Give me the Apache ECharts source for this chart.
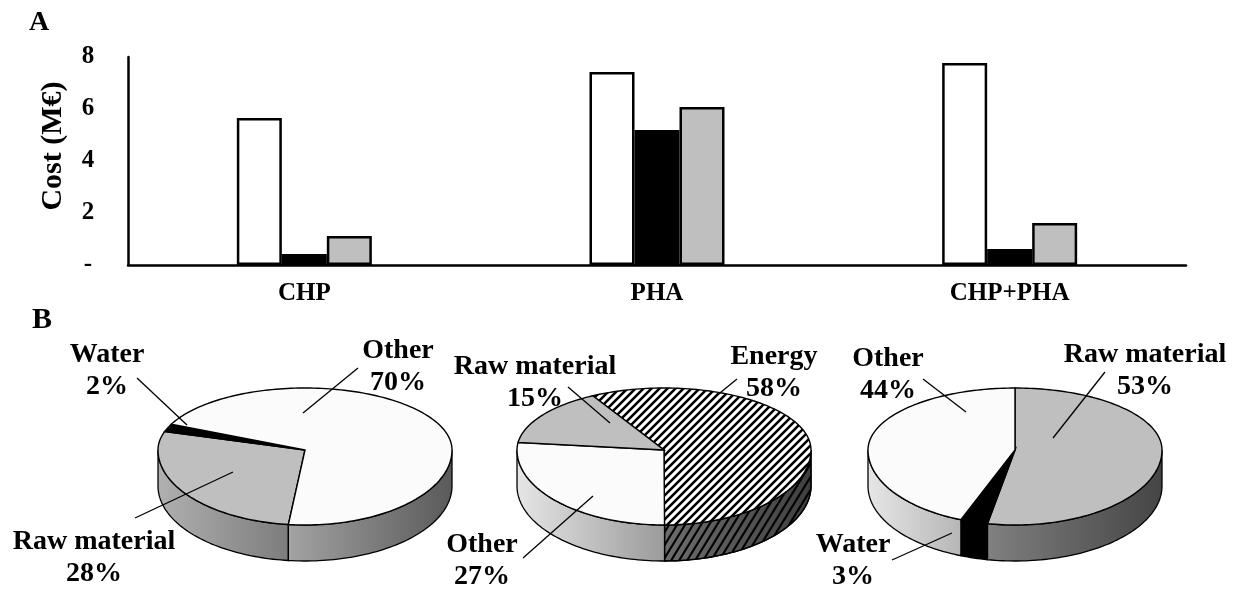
<!DOCTYPE html>
<html>
<head>
<meta charset="utf-8">
<script src="https://cdn.jsdelivr.net/npm/echarts@6/dist/echarts.min.js"></script>
<style>
  html, body { margin: 0; padding: 0; background: #fff; }
  #chart { width: 1242px; height: 603px; }
</style>
</head>
<body>
<div id="chart"></div>
<script>
// ---- data: panel A (cost, M€) ----
const categories = ['CHP', 'PHA', 'CHP+PHA'];
const whiteBars = [5.65, 7.42, 7.77];
const blackBars = [0.42, 5.19, 0.62];
const grayBars = [1.12, 6.08, 1.62];

// ---- data: panel B (cost share, %), slices listed clockwise ----
const pie1Names = ['Raw material', 'Water', 'Other'];
const pie1Values = [28, 2, 70];
const pie2Names = ['Energy', 'Other', 'Raw material'];
const pie2Values = [58, 27, 15];
const pie3Names = ['Raw material', 'Water', 'Other'];
const pie3Values = [53, 3, 44];

const FONT = '"Liberation Serif", "Times New Roman", serif';

// hatch tiles for the "Energy" slice
function hatchTile(w, h, bg, lw) {
  const c = document.createElement('canvas');
  c.width = w;
  c.height = h;
  const g = c.getContext('2d');
  if (bg) {
    g.fillStyle = bg;
    g.fillRect(0, 0, w, h);
  }
  g.strokeStyle = '#000';
  g.lineWidth = lw;
  g.beginPath();
  for (const ox of [-w, 0, w]) {
    g.moveTo(ox - w, 2 * h);
    g.lineTo(ox + 2 * w, -h);
  }
  g.stroke();
  return c;
}
const topHatch = { image: hatchTile(8, 8, '#fff', 2.6), repeat: 'repeat' };
const sideHatch = { image: hatchTile(8, 13, null, 2.2), repeat: 'repeat' };

// slice looks
const sliceStyle = {
  'Raw material': { top: '#bfbfbf', side: 191 },
  'Water': { top: '#000000', side: 0 },
  'Other': { top: '#fbfbfb', side: 250 },
  'Energy': { top: topHatch, side: 175, hatch: true }
};

// pie geometry (pixels) + label placement relative to pie centre
const pieLayout = [
  {
    cx: 305, startAngle: 186.5,
    labels: [
      { text: [-211, 108], out: [-170, 68], inn: [-72, 22] },
      { text: [-198, -79], out: [-168, -72], inn: [-118, -25] },
      { text: [93, -83], out: [53, -82], inn: [-2, -37] }
    ]
  },
  {
    cx: 664, startAngle: 331,
    labels: [
      { text: [110, -77], out: [73, -71], inn: [51, -53] },
      { text: [-182, 111], out: [-141, 108], inn: [-71, 46] },
      { text: [-129, -67], out: [-96, -63], inn: [-54, -27] }
    ]
  },
  {
    cx: 1015, startAngle: 0,
    labels: [
      { text: [130, -79], out: [90, -78], inn: [38, -12] },
      { text: [-162, 111], out: [-123, 110], inn: [-63, 83] },
      { text: [-127, -75], out: [-92, -71], inn: [-49, -38] }
    ]
  }
];
const PIE = { cy: 450, rx: 147, ryBack: 62, ryFront: 75, depth: 36 };

function pt(cx, deg, dy) {
  const t = deg * Math.PI / 180;
  const c = Math.cos(t);
  const ry = c > 0 ? PIE.ryBack : PIE.ryFront;
  return [cx + PIE.rx * Math.sin(t), PIE.cy - ry * c + (dy || 0)];
}

function arc(cx, a0, a1, dy) {
  const pts = [];
  const n = Math.max(2, Math.ceil(Math.abs(a1 - a0) / 1.5));
  for (let k = 0; k <= n; k++) pts.push(pt(cx, a0 + (a1 - a0) * k / n, dy));
  return pts;
}

function shade(base, k) {
  const v = Math.round(base * k);
  return 'rgb(' + v + ',' + v + ',' + v + ')';
}

function pieSeries(names, values, layout) {
  const total = values.reduce((s, v) => s + v, 0);
  return {
    type: 'custom',
    coordinateSystem: 'none',
    silent: true,
    data: values,
    renderItem: function (params, api) {
      const i = params.dataIndex;
      let before = 0;
      for (let j = 0; j < i; j++) before += values[j];
      const a0 = layout.startAngle + 360 * before / total;
      const a1 = a0 + 360 * values[i] / total;
      const look = sliceStyle[names[i]];
      const cx = layout.cx;
      const children = [];

      // front wall (visible where the rim faces the viewer)
      for (let k = 0; k < 3; k++) {
        const s = Math.max(a0, 90 + 360 * k);
        const e = Math.min(a1, 270 + 360 * k);
        if (e <= s) continue;
        const pts = arc(cx, s, e, 0).concat(arc(cx, e, s, PIE.depth));
        const grad = new echarts.graphic.LinearGradient(cx - PIE.rx, 0, cx + PIE.rx, 0, [
          { offset: 0, color: shade(look.side, 0.92) },
          { offset: 0.5, color: shade(look.side, 0.62) },
          { offset: 1, color: shade(look.side, 0.36) }
        ], true);
        children.push({ type: 'polygon', shape: { points: pts }, style: { fill: grad, stroke: '#000', lineWidth: 1.3 } });
        if (look.hatch) {
          children.push({ type: 'polygon', shape: { points: pts }, style: { fill: sideHatch, stroke: '#000', lineWidth: 1.3 } });
        }
      }

      // top face
      const topPts = [[cx, PIE.cy]].concat(arc(cx, a0, a1, 0));
      children.push({ type: 'polygon', shape: { points: topPts }, style: { fill: look.top, stroke: '#000', lineWidth: 1.4 } });

      // label + leader line
      const lab = layout.labels[i];
      children.push({
        type: 'line', z2: 10,
        shape: { x1: cx + lab.out[0], y1: PIE.cy + lab.out[1], x2: cx + lab.inn[0], y2: PIE.cy + lab.inn[1] },
        style: { stroke: '#000', lineWidth: 1.3 }
      });
      children.push({
        type: 'text', z2: 11,
        style: {
          text: names[i] + '\n' + values[i] + '%',
          x: cx + lab.text[0], y: PIE.cy + lab.text[1],
          align: 'center', verticalAlign: 'middle',
          fill: '#000', fontFamily: FONT, fontWeight: 'bold', fontSize: 28, lineHeight: 32
        }
      });
      return { type: 'group', children: children };
    }
  };
}

const barBase = {
  type: 'bar',
  barWidth: 45,
  barGap: '0%',
  silent: true
};

const chart = echarts.init(document.getElementById('chart'));
chart.setOption({
  animation: false,
  backgroundColor: '#fff',
  title: [
    { text: 'A', left: 29, top: 9, padding: 0, textStyle: { fontFamily: FONT, fontWeight: 'bold', fontSize: 28, color: '#000' } },
    { text: 'B', left: 32, top: 305, padding: 0, textStyle: { fontFamily: FONT, fontWeight: 'bold', fontSize: 30, color: '#000' } }
  ],
  grid: { left: 128, right: 56, top: 57, bottom: 338 },
  xAxis: {
    type: 'category',
    data: categories,
    axisLine: { lineStyle: { color: '#000', width: 2.5 } },
    axisTick: { show: false },
    axisLabel: { color: '#000', fontFamily: FONT, fontWeight: 'bold', fontSize: 25, margin: 16 }
  },
  yAxis: {
    type: 'value',
    min: 0,
    max: 8,
    interval: 2,
    name: 'Cost (M€)',
    nameLocation: 'middle',
    nameGap: 60,
    nameTextStyle: { color: '#000', fontFamily: FONT, fontWeight: 'bold', fontSize: 30, padding: [0, 0, 0, 30] },
    axisLine: { show: true, lineStyle: { color: '#000', width: 2.5 } },
    axisTick: { show: false },
    splitLine: { show: false },
    axisLabel: {
      color: '#000', fontFamily: FONT, fontWeight: 'bold', fontSize: 25, margin: 40, align: 'center',
      formatter: (v) => (v === 0 ? '-' : String(v))
    }
  },
  series: [
    Object.assign({}, barBase, { name: 'Series 1', data: whiteBars, itemStyle: { color: '#fff', borderColor: '#000', borderWidth: 2.5 } }),
    Object.assign({}, barBase, { name: 'Series 2', data: blackBars, itemStyle: { color: '#000', borderColor: '#000', borderWidth: 2.5 } }),
    Object.assign({}, barBase, { name: 'Series 3', data: grayBars, itemStyle: { color: '#bfbfbf', borderColor: '#000', borderWidth: 2.5 } }),
    pieSeries(pie1Names, pie1Values, pieLayout[0]),
    pieSeries(pie2Names, pie2Values, pieLayout[1]),
    pieSeries(pie3Names, pie3Values, pieLayout[2])
  ]
});
</script>
</body>
</html>
